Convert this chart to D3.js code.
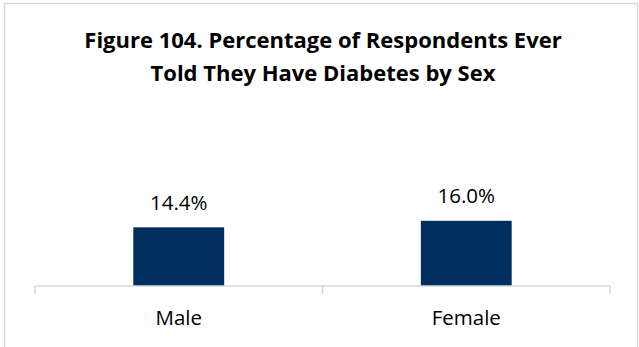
<!DOCTYPE html>
<html>
<head>
<meta charset="utf-8">
<script src="https://cdn.jsdelivr.net/npm/d3@7"></script>
<style>
  body { margin: 0; background: #fff; overflow: hidden; }
  svg { display: block; }
  text { font-family: "Open Sans", "Noto Sans", sans-serif; fill: #000; }
</style>
</head>
<body>
<div id="chart"></div>
<script>
// chart data
var titleLines = ["Figure 104. Percentage of Respondents Ever", "Told They Have Diabetes by Sex"];
var categories = ["Male", "Female"];
var values = [14.4, 16.0];

var svgWidth = 639, svgHeight = 347;
var margin = {top: 123, right: 29, bottom: 61, left: 35};
var innerWidth = svgWidth - margin.left - margin.right;
var innerHeight = svgHeight - margin.top - margin.bottom;

var svg = d3.select("#chart").append("svg")
    .attr("width", svgWidth)
    .attr("height", svgHeight);

// outer chart border (bottom edge falls outside the picture)
svg.append("path")
    .attr("d", "M4.5," + svgHeight + "V3.5H637.5V" + svgHeight)
    .attr("fill", "none")
    .attr("stroke", "#d9d9d9")
    .attr("stroke-width", 1.5);

svg.append("text")
    .attr("x", 323)
    .attr("y", 48)
    .attr("text-anchor", "middle")
    .style("font-weight", "bold")
    .style("font-size", "22px")
    .selectAll("tspan")
    .data(titleLines)
    .enter().append("tspan")
    .attr("x", 323)
    .attr("dy", function(d, i) { return i == 0 ? 0 : 33; })
    .text(function(d) { return d; });

var g = svg.append("g")
    .attr("transform", "translate(" + margin.left + "," + margin.top + ")");

var xScale = d3.scaleBand()
    .domain(categories)
    .range([0, innerWidth])
    .padding(0);

var yScale = d3.scaleLinear()
    .domain([0, 40])
    .range([innerHeight, 0]);

var barWidth = xScale.bandwidth() * 0.316;

g.selectAll(".bar")
    .data(values)
    .enter().append("rect")
    .attr("class", "bar")
    .attr("x", function(d, i) { return xScale(categories[i]) + (xScale.bandwidth() - barWidth) / 2; })
    .attr("y", function(d) { return yScale(d); })
    .attr("width", barWidth)
    .attr("height", function(d) { return innerHeight - yScale(d); })
    .attr("fill", "#002f5f");

g.selectAll(".label")
    .data(values)
    .enter().append("text")
    .attr("class", "label")
    .attr("x", function(d, i) { return xScale(categories[i]) + xScale.bandwidth() / 2; })
    .attr("y", function(d) { return yScale(d) - 17.5; })
    .attr("text-anchor", "middle")
    .style("font-size", "20.5px")
    .text(function(d) { return d.toFixed(1) + "%"; });

// category axis, ticks sit between the categories
var xAxis = g.append("g")
    .attr("transform", "translate(0," + innerHeight + ")");

xAxis.append("line")
    .attr("x1", 0)
    .attr("x2", innerWidth)
    .attr("y1", 0)
    .attr("y2", 0)
    .attr("stroke", "#d9d9d9")
    .attr("stroke-width", 1.5);

xAxis.selectAll(".tick-mark")
    .data([0].concat(categories.map(function(c) { return xScale(c) + xScale.bandwidth(); })))
    .enter().append("line")
    .attr("class", "tick-mark")
    .attr("x1", function(d) { return d; })
    .attr("x2", function(d) { return d; })
    .attr("y1", 0)
    .attr("y2", 8)
    .attr("stroke", "#d9d9d9")
    .attr("stroke-width", 1.5);

xAxis.selectAll(".cat")
    .data(categories)
    .enter().append("text")
    .attr("class", "cat")
    .attr("x", function(d) { return xScale(d) + xScale.bandwidth() / 2; })
    .attr("y", 39)
    .attr("text-anchor", "middle")
    .style("font-size", "20.5px")
    .text(function(d) { return d; });
</script>
</body>
</html>
